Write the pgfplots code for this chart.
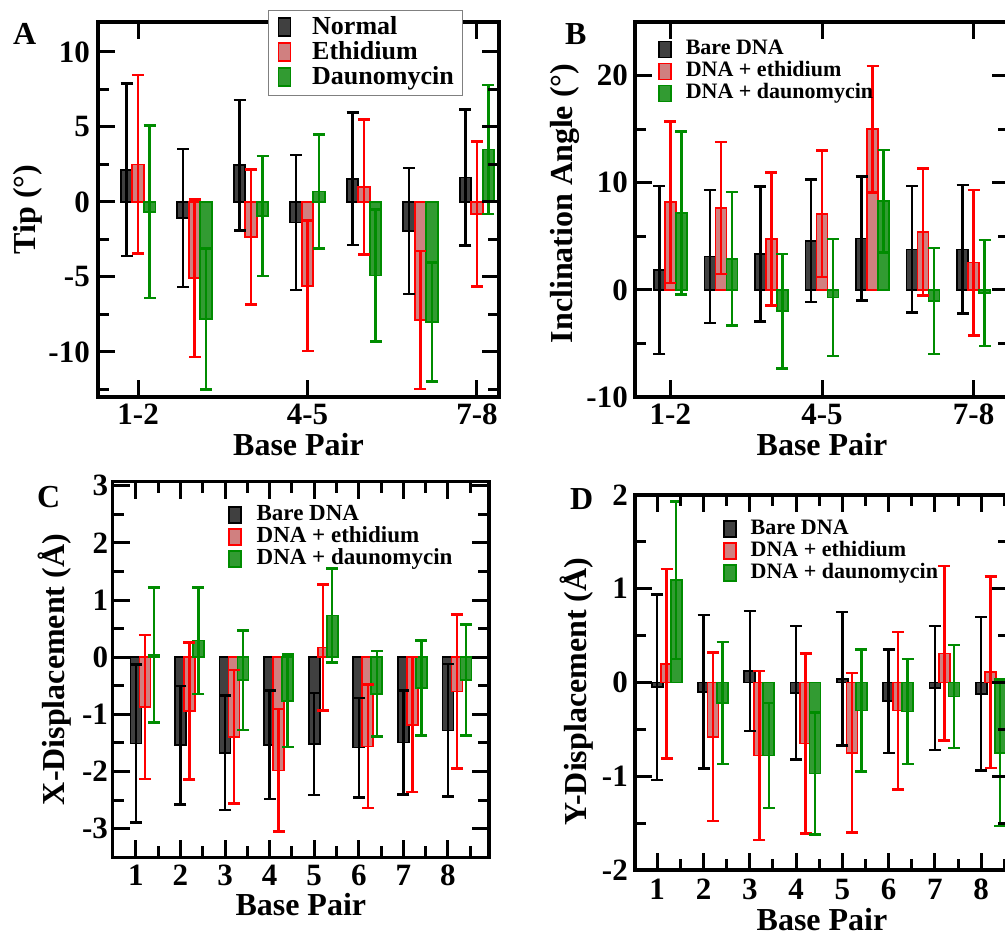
\documentclass[border=0pt]{standalone}
\usepackage{pgfplots}
\usepackage{pgfplotstable}
\pgfplotsset{compat=1.18}
\usepackage{fontspec}
\setmainfont{Liberation Serif}
\definecolor{bkfill}{RGB}{64,64,64}
\definecolor{rdfill}{RGB}{208,128,128}
\definecolor{rdline}{RGB}{255,0,0}
\definecolor{gnfill}{RGB}{50,155,50}
\definecolor{gnline}{RGB}{0,140,0}
\newcommand{\tfont}{\fontsize{31}{31}\selectfont\bfseries}
\newcommand{\lfont}{\fontsize{32}{32}\selectfont\bfseries}

% columns: x, mean/sd for Normal(bare), Ethidium, Daunomycin
\pgfplotstableread{
x bk bke rd rde gn gne
1 2.15 5.75 2.5 5.95 -0.65 5.75
2 -1.06 4.6 -5.07 5.25 -7.8 4.7
3 2.45 4.35 -2.33 4.5 -0.93 4.0
4 -1.37 4.5 -5.6 4.35 0.7 3.8
5 1.55 4.43 1.0 4.5 -4.9 4.4
6 -1.95 4.2 -7.87 4.6 -8.0 3.96
7 1.64 4.53 -0.8 4.82 3.5 4.3
}\dataA
\pgfplotstableread{
x bk bke rd rde gn gne
1 1.84 7.85 8.17 7.55 7.18 7.6
2 3.12 6.2 7.65 6.16 2.91 6.22
3 3.34 6.29 4.74 6.2 -2.0 5.34
4 4.58 5.73 7.09 5.91 -0.71 5.45
5 4.8 5.8 15.0 5.9 8.27 4.77
6 3.78 5.9 5.4 5.93 -1.05 4.95
7 3.78 6.0 2.54 6.78 -0.3 4.94
}\dataB
\pgfplotstableread{
x bk bke rd rde gn gne
1 -1.51 1.38 -0.87 1.26 0.04 1.18
2 -1.54 1.04 -0.94 1.2 0.29 0.93
3 -1.67 1.0 -1.39 1.17 -0.4 0.87
4 -1.53 0.95 -1.98 1.07 -0.76 0.81
5 -1.52 0.89 0.17 1.1 0.73 0.82
6 -1.58 0.87 -1.56 1.08 -0.64 0.75
7 -1.49 0.91 -1.18 1.18 -0.54 0.83
8 -1.28 1.16 -0.6 1.35 -0.4 0.97
}\dataC
\pgfplotstableread{
x bk bke rd rde gn gne
1 -0.05 0.99 0.2 1.01 1.09 0.84
2 -0.1 0.82 -0.58 0.9 -0.22 0.65
3 0.12 0.64 -0.78 0.9 -0.78 0.56
4 -0.11 0.71 -0.65 0.96 -0.97 0.65
5 0.04 0.71 -0.75 0.85 -0.3 0.65
6 -0.2 0.55 -0.3 0.84 -0.31 0.56
7 -0.06 0.66 0.31 0.93 -0.15 0.55
8 -0.12 0.82 0.11 1.02 -0.75 0.78
}\dataD

\pgfplotsset{
  panel/.style={
    scale only axis,
    axis on top,
    axis line style={line width=3.2pt},
    tick style={line width=3pt, black},
    major tick length=17pt,
    minor tick length=11pt,
    tick align=inside,
    tick label style={font=\tfont},
    xticklabel style={anchor=base, inner sep=0pt},
    yticklabel style={anchor=east, inner sep=0pt},
    label style={font=\lfont},
    ylabel style={anchor=center},
    xlabel style={anchor=base},
    legend cell align=left,
  },
  bk/.style={ybar, draw=black, fill=bkfill, line width=1.7pt,
    legend image code/.code={\draw[line width=1.6pt, draw=black, fill=bkfill] (0pt,-8pt) rectangle (12pt,#1);}},
  rd/.style={ybar, draw=rdline, fill=rdfill, line width=1.7pt,
    legend image code/.code={\draw[line width=1.6pt, draw=rdline, fill=rdfill] (0pt,-8pt) rectangle (12pt,#1);}},
  gn/.style={ybar, draw=gnline, fill=gnfill, line width=1.7pt,
    legend image code/.code={\draw[line width=1.6pt, draw=gnline, fill=gnfill] (0pt,-8pt) rectangle (12pt,#1);}},
  eb/.style={forget plot, draw=none, mark=none,
    error bars/y dir=both, error bars/y explicit, error bars/error mark=|,
    error bars/error bar style={draw=#1, line width=2.5pt},
    error bars/error mark options={draw=#1, line width=2.5pt, mark size=6pt}},
}
\begin{document}
\begin{tikzpicture}
\useasboundingbox (0pt,0pt) rectangle (1005pt,935pt);
\clip (0pt,0pt) rectangle (1005pt,935pt);

% ---------------- Panel A ----------------
\begin{axis}[panel, at={(98pt,538pt)}, anchor=south west, width=401pt, height=375pt,
  xmin=0.29, xmax=7.39, ymin=-13, ymax=12,
  xtick={1,4,7}, xticklabels={1-2,4-5,7-8},
  ytick={-10,-5,0,5,10}, yticklabels={-10,-5,0,5,10},
  minor ytick={-12.5,-7.5,-2.5,2.5,7.5},
  xticklabel style={yshift=-28pt}, yticklabel style={xshift=-8pt},
  xlabel={Base Pair}, ylabel={Tip (°)},
  xlabel style={at={(axis description cs:0.5,-0.1547)}},
  ylabel style={at={(axis description cs:-0.175,0.5)}},
  legend style={at={(0.424,1.032)}, anchor=north west, draw=gray, line width=1.2pt, fill=white,
    inner xsep=9pt, inner ysep=5pt, row sep=0pt, column sep=21pt,
    font=\fontsize{26}{26}\selectfont\bfseries,
    nodes={inner sep=0pt, text height=19pt, text depth=6pt}},
]
\addplot[bk=10pt, bar width=11.5pt, bar shift=-11.5pt] table[x=x, y=bk] {\dataA};
\addlegendentry{Normal}
\addplot[rd=10pt, bar width=11.5pt, bar shift=0pt] table[x=x, y=rd] {\dataA};
\addlegendentry{Ethidium}
\addplot[gn=10pt, bar width=11.5pt, bar shift=11.5pt] table[x=x, y=gn] {\dataA};
\addlegendentry{Daunomycin}
\addplot[eb=black] table[x expr=\thisrow{x}-0.2036, y=bk, y error=bke] {\dataA};
\addplot[eb=rdline] table[x=x, y=rd, y error=rde] {\dataA};
\addplot[eb=gnline] table[x expr=\thisrow{x}+0.2036, y=gn, y error=gne] {\dataA};
\end{axis}

% ---------------- Panel B ----------------
\begin{axis}[panel, at={(635pt,538pt)}, anchor=south west, width=374pt, height=375pt,
  xmin=0.3, xmax=7.7, ymin=-10, ymax=25,
  xtick={1,4,7}, xticklabels={1-2,4-5,7-8},
  ytick={-10,0,10,20}, yticklabels={-10,0,10,20},
  minor ytick={-5,5,15},
  xticklabel style={yshift=-28pt}, yticklabel style={xshift=-7pt},
  xlabel={Base Pair}, ylabel={Inclination Angle (°)},
  xlabel style={at={(axis description cs:0.5,-0.1547)}},
  ylabel style={at={(axis description cs:-0.187,0.516)}},
  legend style={at={(0.0615,0.957)}, anchor=north west, draw=none, fill=none,
    inner sep=0pt, row sep=0pt, column sep=14pt,
    font=\fontsize{22}{22}\selectfont\bfseries,
    nodes={inner sep=0pt, text height=16pt, text depth=6pt}},
]
\addplot[bk=8pt, bar width=11pt, bar shift=-11pt] table[x=x, y=bk] {\dataB};
\addlegendentry{Bare DNA}
\addplot[rd=8pt, bar width=11pt, bar shift=0pt] table[x=x, y=rd] {\dataB};
\addlegendentry{DNA + ethidium}
\addplot[gn=8pt, bar width=11pt, bar shift=11pt] table[x=x, y=gn] {\dataB};
\addlegendentry{DNA + daunomycin}
\addplot[eb=black] table[x expr=\thisrow{x}-0.2176, y=bk, y error=bke] {\dataB};
\addplot[eb=rdline] table[x=x, y=rd, y error=rde] {\dataB};
\addplot[eb=gnline] table[x expr=\thisrow{x}+0.2176, y=gn, y error=gne] {\dataB};
\end{axis}

% ---------------- Panel C ----------------
\begin{axis}[panel, at={(112.7pt,77.7pt)}, anchor=south west, width=376.3pt, height=375.6pt,
  xmin=0.48, xmax=8.92, ymin=-3.5, ymax=3.07,
  xtick={1,2,3,4,5,6,7,8}, xticklabels={1,2,3,4,5,6,7,8},
  minor xtick={1.5,2.5,3.5,4.5,5.5,6.5,7.5,8.5},
  ytick={-3,-2,-1,0,1,2,3}, yticklabels={-3,-2,-1,0,1,2,3},
  minor ytick={-2.5,-1.5,-0.5,0.5,1.5,2.5},
  xticklabel style={yshift=-28pt}, yticklabel style={xshift=-4.5pt},
  xlabel={Base Pair}, ylabel={X-Displacement (Å)},
  xlabel style={at={(axis description cs:0.5,-0.154)}},
  ylabel style={at={(axis description cs:-0.155,0.5)}},
  legend style={at={(0.306,0.941)}, anchor=north west, draw=none, fill=none,
    inner sep=0pt, row sep=0pt, column sep=15pt,
    font=\fontsize{23}{23}\selectfont\bfseries,
    nodes={inner sep=0pt, text height=16pt, text depth=6pt}},
]
\addplot[bk=8pt, bar width=11pt, bar shift=0pt] table[x=x, y=bk] {\dataC};
\addlegendentry{Bare DNA}
\addplot[rd=8pt, bar width=11pt, bar shift=9pt] table[x=x, y=rd] {\dataC};
\addlegendentry{DNA + ethidium}
\addplot[gn=8pt, bar width=11pt, bar shift=18pt] table[x=x, y=gn] {\dataC};
\addlegendentry{DNA + daunomycin}
\addplot[eb=black] table[x=x, y=bk, y error=bke] {\dataC};
\addplot[eb=rdline] table[x expr=\thisrow{x}+0.2018, y=rd, y error=rde] {\dataC};
\addplot[eb=gnline] table[x expr=\thisrow{x}+0.4037, y=gn, y error=gne] {\dataC};
\end{axis}

% ---------------- Panel D ----------------
\begin{axis}[panel, at={(635pt,65pt)}, anchor=south west, width=374pt, height=375pt,
  xmin=0.52, xmax=8.6, ymin=-2, ymax=2,
  xtick={1,2,3,4,5,6,7,8}, xticklabels={1,2,3,4,5,6,7,8},
  minor xtick={1.5,2.5,3.5,4.5,5.5,6.5,7.5,8.5},
  ytick={-2,-1,0,1,2}, yticklabels={-2,-1,0,1,2},
  minor ytick={-1.5,-0.5,0.5,1.5},
  xticklabel style={yshift=-30pt}, yticklabel style={xshift=-7pt},
  xlabel={Base Pair}, ylabel={Y-Displacement (Å)},
  xlabel style={at={(axis description cs:0.5,-0.16)}},
  ylabel style={at={(axis description cs:-0.156,0.475)}},
  legend style={at={(0.235,0.939)}, anchor=north west, draw=none, fill=none,
    inner sep=0pt, row sep=0pt, column sep=14pt,
    font=\fontsize{22}{22}\selectfont\bfseries,
    nodes={inner sep=0pt, text height=16pt, text depth=6pt}},
]
\addplot[bk=8pt, bar width=11pt, bar shift=0pt] table[x=x, y=bk] {\dataD};
\addlegendentry{Bare DNA}
\addplot[rd=8pt, bar width=11pt, bar shift=9.5pt] table[x=x, y=rd] {\dataD};
\addlegendentry{DNA + ethidium}
\addplot[gn=8pt, bar width=11pt, bar shift=19pt] table[x=x, y=gn] {\dataD};
\addlegendentry{DNA + daunomycin}
\addplot[eb=black] table[x=x, y=bk, y error=bke] {\dataD};
\addplot[eb=rdline] table[x expr=\thisrow{x}+0.2052, y=rd, y error=rde] {\dataD};
\addplot[eb=gnline] table[x expr=\thisrow{x}+0.4105, y=gn, y error=gne] {\dataD};
\end{axis}

\node[anchor=base west, inner sep=0pt, font=\lfont] at (13pt,890pt) {A};
\node[anchor=base west, inner sep=0pt, font=\lfont] at (565pt,890pt) {B};
\node[anchor=base west, inner sep=0pt, font=\lfont] at (37pt,427pt) {C};
\node[anchor=base west, inner sep=0pt, font=\lfont] at (570pt,425pt) {D};
\end{tikzpicture}
\end{document}
